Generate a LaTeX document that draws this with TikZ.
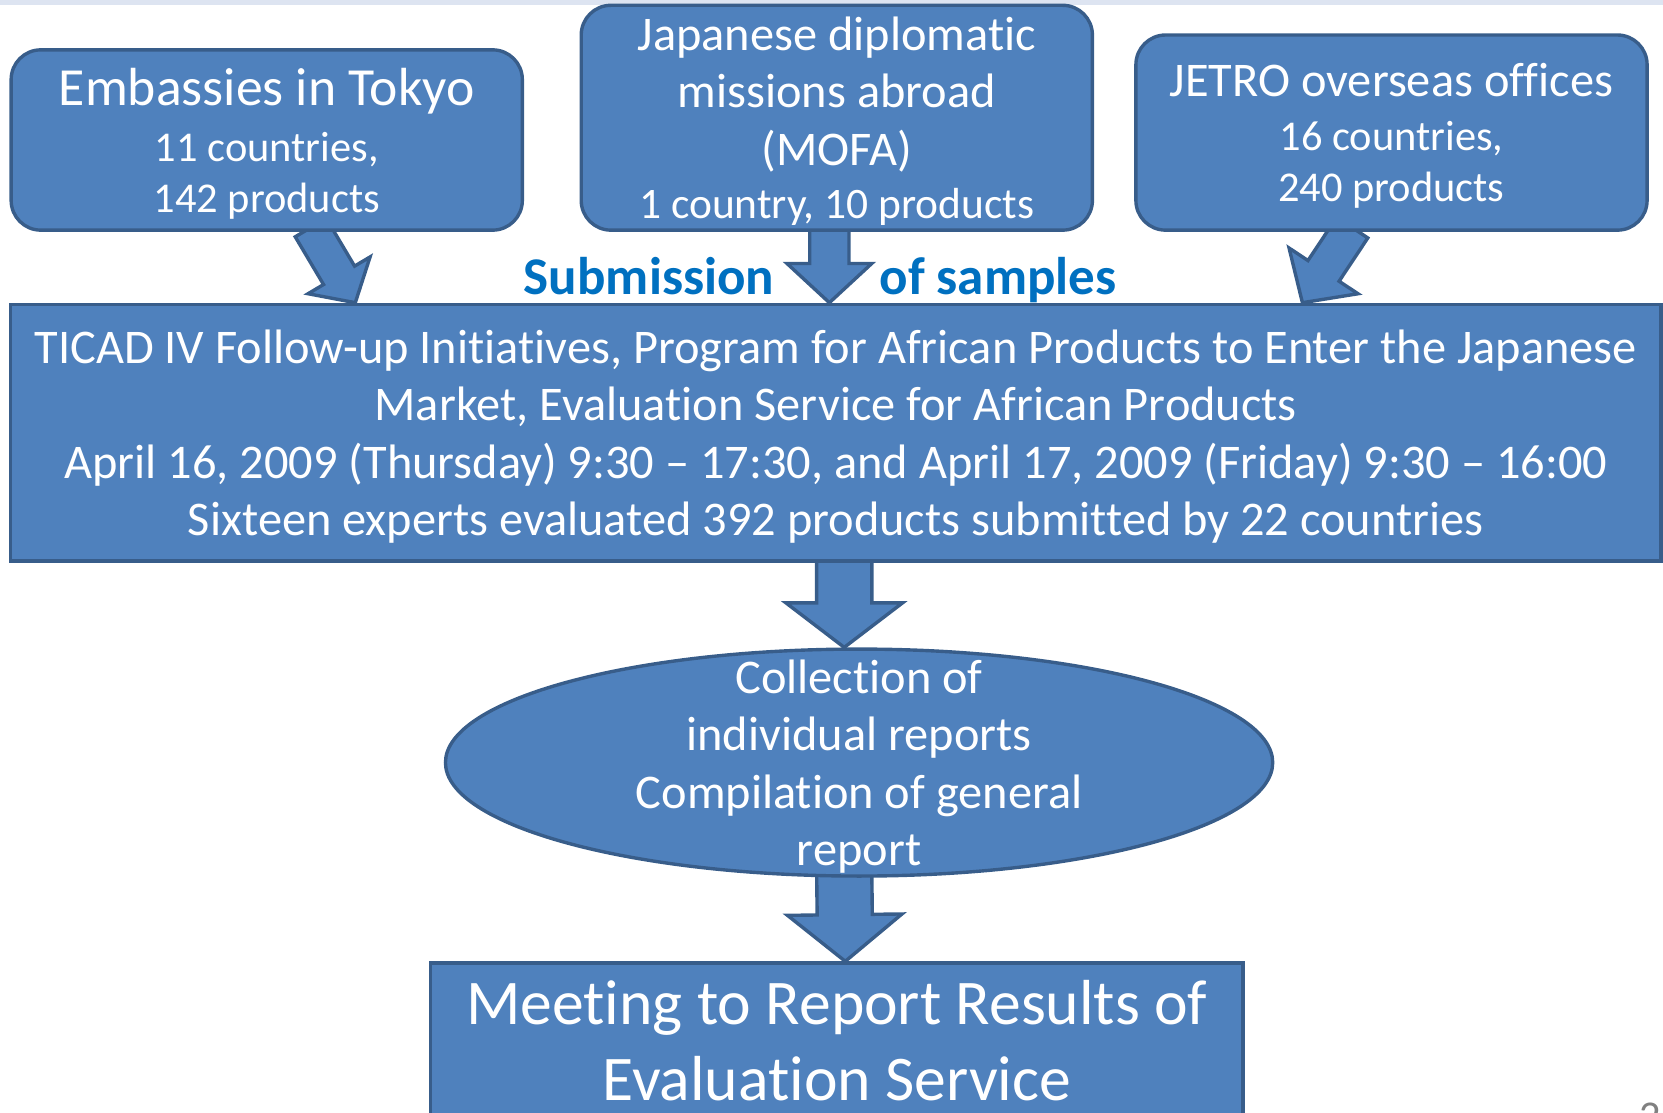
\documentclass[tikz,border=0pt]{standalone}
\usepackage{fontspec}
\setmainfont{Carlito}[RawFeature={-liga;-clig;-dlig;-calt}]
\usepackage{tikz}
\usetikzlibrary{shapes,positioning,calc,backgrounds}
\definecolor{ticadfill}{RGB}{79,129,189}
\definecolor{ticadline}{RGB}{56,93,138}
\definecolor{ticadtext}{RGB}{0,112,192}
\definecolor{bandblue}{RGB}{221,228,241}
\newcommand\headsize{\fontsize{22.8}{27}\selectfont}
\newcommand\subsize{\fontsize{20}{24}\selectfont}
% fat arrow from #1 to #2: half shaft #3, half head #4, head length #5
\newcommand\blockarrow[5]{%
  \path (#1) coordinate (ba-t) (#2) coordinate (ba-h);
  \path ($(ba-h)!#5!(ba-t)$) coordinate (ba-n);
  \draw[flowarrow] ($(ba-t)!#3!90:(ba-h)$) -- ($(ba-n)!#3!90:(ba-h)$) -- ($(ba-n)!#4!90:(ba-h)$)
    -- (ba-h) -- ($(ba-n)!#4!-90:(ba-h)$) -- ($(ba-n)!#3!-90:(ba-h)$) -- ($(ba-t)!#3!-90:(ba-h)$) -- cycle;
}

\begin{document}
\begin{tikzpicture}[x=0.5pt, y=-0.5pt,
    srcbox/.style={rectangle, rounded corners=14pt, draw=ticadline, line width=1.6pt, fill=ticadfill, text=white, align=center, font=\subsize, text depth=0pt, minimum width=241pt},
    stagebox/.style={rectangle, draw=ticadline, line width=1.6pt, fill=ticadfill, text=white, align=center},
    flowarrow/.style={draw=ticadline, line width=1.6pt, fill=ticadfill, line join=miter},
    steplabel/.style={text=ticadtext, font=\fontsize{25}{27}\selectfont\bfseries, anchor=base}]
    \useasboundingbox (0,0) rectangle (1568,1049);
    \fill[bandblue] (0,0) rectangle (1568,5);

    % where the samples come from
    \node[srcbox, minimum height=85pt] (emb) at (251.5,132) {{\fontsize{25.3}{27}\selectfont Embassies in Tokyo}\\[2.5pt]11 countries,\\142 products};
    \node[srcbox, minimum height=106pt] (mofa) at (789,111) {{\headsize Japanese diplomatic}\\[3pt]{\headsize missions abroad}\\[3.5pt]{\headsize (MOFA)}\\[1pt]{\fontsize{20.5}{24}\selectfont 1 country, 10 products}};
    \node[srcbox, minimum height=92pt] (jetro) at (1312,125) {{\headsize JETRO overseas offices}\\[1.5pt]16 countries,\\240 products};

    \node[steplabel] (subm) at (612,278) {Submission};
    \node[steplabel] (samp) at (941,278) {of samples};

    % evaluation stages
    \node[stagebox, minimum width=778pt, minimum height=121pt, inner xsep=2pt, text depth=0pt, font=\headsize] (main) at (788,408) {TICAD IV Follow-up Initiatives, Program for African Products to Enter the Japanese\\Market, Evaluation Service for African Products\\April 16, 2009 (Thursday) 9:30 – 17:30, and April 17, 2009 (Friday) 9:30 – 16:00\\Sixteen experts evaluated 392 products submitted by 22 countries};

    \node[ellipse, draw=ticadline, line width=1.6pt, fill=ticadfill, minimum width=390pt, minimum height=107pt] (collect) at (810,719) {};
    \node[text=white, align=center, text depth=0pt, font=\headsize] (collecttxt) at (collect.center) {Collection of\\individual reports\\Compilation of general\\report};

    \node[stagebox, minimum width=383pt, minimum height=73pt, font=\fontsize{30}{36}\selectfont] (meet) at (789,981) {Meeting to Report Results of\\Evaluation Service};

    \node[text=gray, font=\subsize, anchor=north west] (pageno) at (1539,1033) {2};

    \begin{scope}[on background layer]
        \blockarrow{$(emb.south)+(41.5,-4)$}{$(main.north)+(-453,0)$}{8.5pt}{17pt}{15pt}
        \blockarrow{$(mofa.south)+(-7,-4)$}{$(main.north)+(-6,0)$}{9.25pt}{20pt}{18.5pt}
        \blockarrow{$(jetro.south)+(-37,-4)$}{$(main.north)+(440,0)$}{8.8pt}{19.5pt}{18pt}
        \blockarrow{$(main.south)+(8,-4)$}{$(collect.north)+(-14,0)$}{13pt}{27.5pt}{21pt}
        \blockarrow{$(collect.south)+(-14,-4)$}{$(meet.north)+(8,0)$}{13pt}{27pt}{22pt}
    \end{scope}
\end{tikzpicture}
\end{document}
